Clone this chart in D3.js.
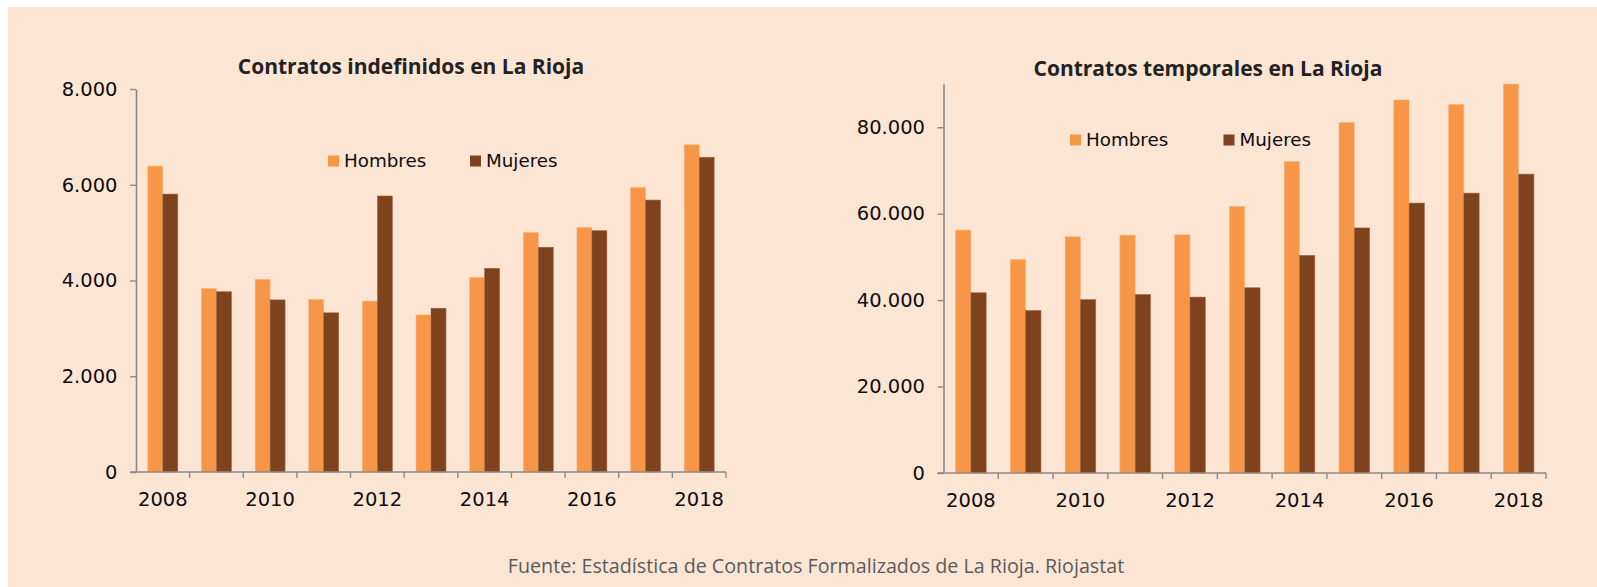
<!DOCTYPE html>
<html>
<head>
<meta charset="utf-8">
<script src="https://cdn.jsdelivr.net/npm/d3@7"></script>
<style>
  html, body { margin: 0; padding: 0; background: #ffffff; }
  svg { display: block; }
</style>
</head>
<body>
<svg id="chart" width="1597" height="587"></svg>
<script>
// datos
var years = ["2008", "2009", "2010", "2011", "2012", "2013", "2014", "2015", "2016", "2017", "2018"];
var seriesNames = ["Hombres", "Mujeres"];
var yearLabels = ["2008", "2010", "2012", "2014", "2016", "2018"];

var indefHombres = [6390, 3835, 4025, 3605, 3570, 3280, 4065, 5005, 5110, 5945, 6835];
var indefMujeres = [5805, 3765, 3595, 3325, 5765, 3420, 4255, 4695, 5040, 5680, 6575];
var indefTicks = [0, 2000, 4000, 6000, 8000];

var tempHombres = [56200, 49400, 54650, 55050, 55100, 61700, 72050, 81100, 86300, 85300, 90000];
var tempMujeres = [41700, 37600, 40100, 41300, 40700, 42850, 50350, 56700, 62450, 64750, 69150];
var tempTicks = [0, 20000, 40000, 60000, 80000];

var colors = ["#f79646", "#7e421d"];
var axisColor = "#8a8a8a";

var es = d3.formatLocale({decimal: ",", thousands: ".", grouping: [3], currency: ["", " €"]});
var fmt = es.format(",");

var svg = d3.select("#chart");

// fondo
svg.append("rect")
   .attr("x", 8)
   .attr("y", 7)
   .attr("width", 1589)
   .attr("height", 580)
   .attr("fill", "#fde5d4");

function drawChart(opt) {
    var g = svg.append("g");
    var hombres = opt.hombres, mujeres = opt.mujeres;

    var x = d3.scaleBand()
              .domain(years)
              .range([opt.left, opt.right])
              .padding(0);
    var xs = d3.scaleBand()
               .domain(seriesNames)
               .range([0, x.step()])
               .paddingInner(0)
               .paddingOuter(0.79);
    var y = d3.scaleLinear()
              .domain([0, opt.max])
              .range([opt.bottom, opt.top]);

    // barras
    var rows = years.map(function(d, i) {
        return {year: d, values: [hombres[i], mujeres[i]]};
    });
    g.selectAll("g.year")
     .data(rows)
     .enter().append("g")
       .attr("class", "year")
       .attr("transform", function(d) { return "translate(" + x(d.year) + ",0)"; })
     .selectAll("rect")
     .data(function(d) { return d.values.map(function(v, k) { return {s: seriesNames[k], v: v, k: k}; }); })
     .enter().append("rect")
       .attr("x", function(d) { return xs(d.s); })
       .attr("y", function(d) { return y(d.v); })
       .attr("width", xs.bandwidth())
       .attr("height", function(d) { return y(0) - y(d.v); })
       .attr("fill", function(d) { return colors[d.k]; })
       .attr("stroke", function(d) { return d.k == 0 ? "#fbb584" : "#a0664a"; })
       .attr("stroke-width", 0.6);

    // eje y
    var yAxis = d3.axisLeft(y)
                  .tickValues(opt.ticks)
                  .tickFormat(fmt)
                  .tickSize(6)
                  .tickSizeOuter(0)
                  .tickPadding(12.5);
    var ya = g.append("g")
              .attr("transform", "translate(" + opt.left + ",0)")
              .call(yAxis);
    ya.select(".domain").attr("stroke", axisColor).attr("stroke-width", 1.6);
    ya.selectAll(".tick line").attr("stroke", axisColor).attr("stroke-width", 1.4);
    ya.selectAll(".tick text")
      .attr("fill", "#0d0d0d")
      .style("font-family", "DejaVu Sans")
      .style("font-size", "19.5px");

    // eje x: marcas en los limites de cada categoria
    var xa = g.append("g")
              .attr("transform", "translate(0," + opt.bottom + ")");
    xa.append("line")
      .attr("x1", opt.left - 6)
      .attr("x2", opt.right)
      .attr("stroke", axisColor)
      .attr("stroke-width", 1.6);
    xa.selectAll("line.tk")
      .data(years.slice(1).concat(["end"]))
      .enter().append("line")
        .attr("class", "tk")
        .attr("x1", function(d) { return d == "end" ? opt.right : x(d); })
        .attr("x2", function(d) { return d == "end" ? opt.right : x(d); })
        .attr("y1", 0)
        .attr("y2", 6)
        .attr("stroke", axisColor)
        .attr("stroke-width", 1.4);
    var xAxis = d3.axisBottom(x)
                  .tickValues(yearLabels)
                  .tickSize(0)
                  .tickPadding(20.5);
    var xl = g.append("g")
              .attr("transform", "translate(0," + opt.bottom + ")")
              .call(xAxis);
    xl.select(".domain").remove();
    xl.selectAll(".tick text")
      .attr("fill", "#0d0d0d")
      .style("font-family", "DejaVu Sans")
      .style("font-size", "19.5px");

    // titulo
    g.append("text")
     .attr("x", opt.titleX)
     .attr("y", opt.titleY)
     .attr("text-anchor", "middle")
     .attr("fill", "#222")
     .style("font-family", "Open Sans")
     .style("font-weight", "bold")
     .style("font-size", "21px")
     .text(opt.title);

    // leyenda
    var lg = g.selectAll("g.leg")
              .data(seriesNames)
              .enter().append("g")
                .attr("class", "leg")
                .attr("transform", function(d, i) { return "translate(" + opt.legendX[i] + "," + opt.legendY + ")"; });
    lg.append("rect")
      .attr("x", 0)
      .attr("y", -11.5)
      .attr("width", 11)
      .attr("height", 11)
      .attr("fill", function(d, i) { return colors[i]; });
    lg.append("text")
      .attr("x", 16)
      .attr("y", 0)
      .attr("fill", "#0d0d0d")
      .style("font-family", "DejaVu Sans")
      .style("font-size", "18.3px")
      .text(function(d) { return d; });
}

drawChart({
    title: "Contratos indefinidos en La Rioja",
    hombres: indefHombres, mujeres: indefMujeres,
    max: 8000, ticks: indefTicks,
    left: 136, right: 726, top: 89, bottom: 472,
    titleX: 411, titleY: 74,
    legendX: [328, 470], legendY: 167
});

drawChart({
    title: "Contratos temporales en La Rioja",
    hombres: tempHombres, mujeres: tempMujeres,
    max: 90000, ticks: tempTicks,
    left: 943.5, right: 1546, top: 84, bottom: 473,
    titleX: 1208, titleY: 76,
    legendX: [1070, 1223.5], legendY: 146
});

// fuente
svg.append("text")
   .attr("x", 816)
   .attr("y", 573)
   .attr("text-anchor", "middle")
   .attr("fill", "#5a5a5a")
   .style("font-family", "Open Sans")
   .style("font-size", "19.7px")
   .text("Fuente: Estadística de Contratos Formalizados de La Rioja. Riojastat");
</script>
</body>
</html>
